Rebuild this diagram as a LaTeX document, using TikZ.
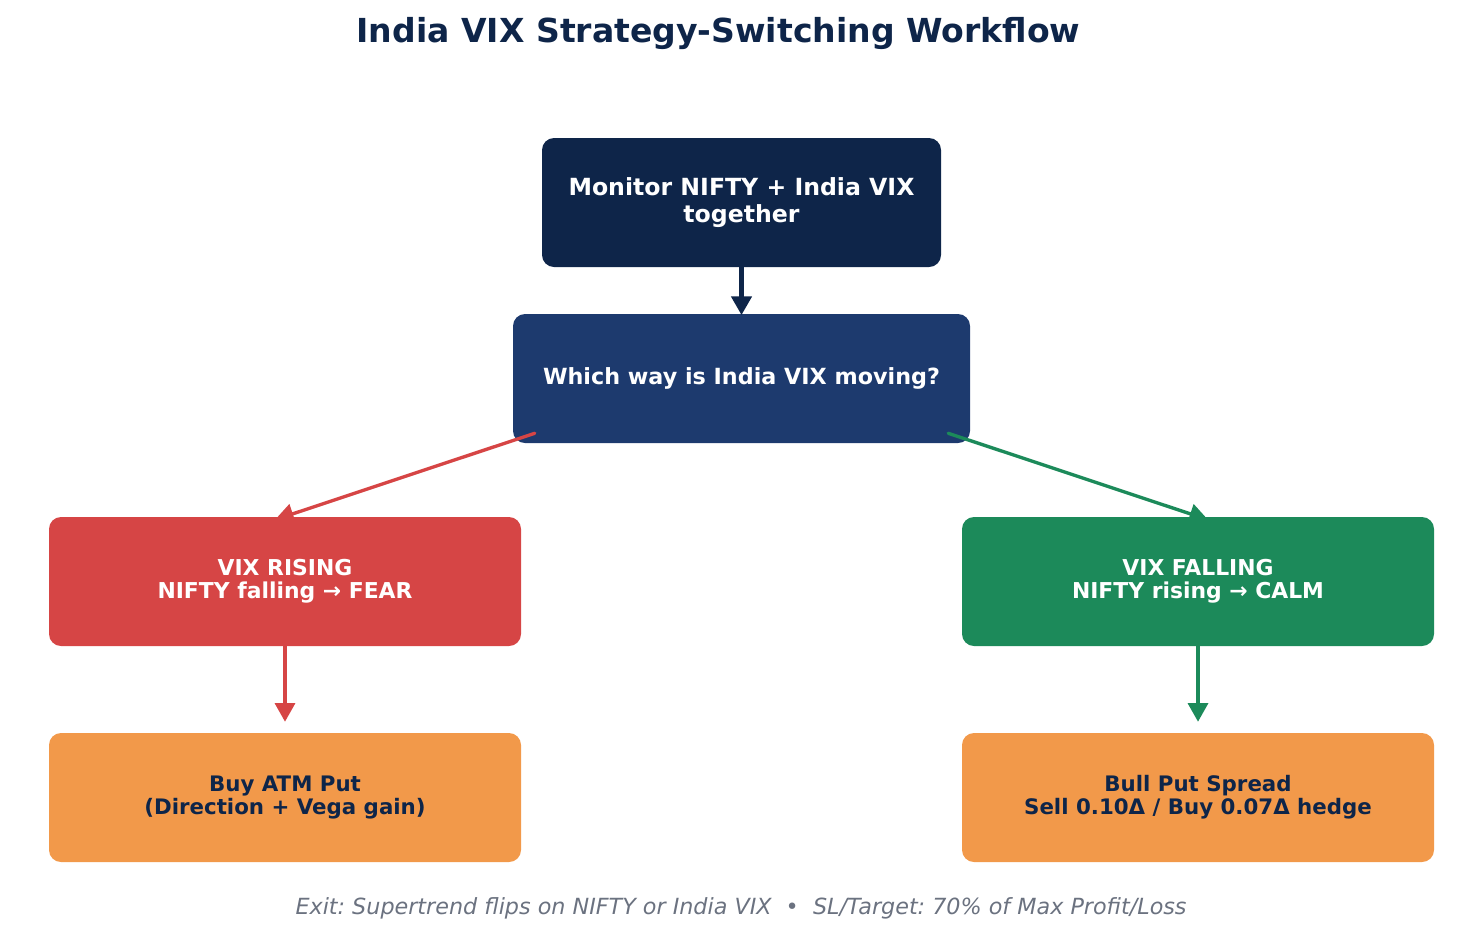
\documentclass[tikz,border=0pt]{standalone}
\usepackage{fontspec}
\setmainfont{DejaVu Sans}
\usetikzlibrary{arrows.meta,calc}
\definecolor{navy}{HTML}{0E2549}
\definecolor{blueq}{HTML}{1D3A6E}
\definecolor{redc}{HTML}{D64545}
\definecolor{greenc}{HTML}{1C8A5A}
\definecolor{orangec}{HTML}{F2994A}
\definecolor{grayc}{HTML}{6B7280}
\frenchspacing
\begin{document}
\begin{tikzpicture}[x=0.75pt,y=-0.75pt,
  box/.style={rectangle, rounded corners=9pt, inner sep=0pt, align=center, minimum height=96.75pt},
  textsm/.style={font=\bfseries\fontsize{16}{17.5}\selectfont},
  textmd/.style={font=\bfseries\fontsize{16.4}{17.5}\selectfont},
  conn/.style={line width=2.5pt, -{Triangle[length=14pt,width=15pt]}}]
\useasboundingbox (0,0) rectangle (1483,950);
\node[anchor=base, text=navy, font=\bfseries\fontsize{24.8}{29}\selectfont] (title) at (718.5,42) {India VIX Strategy-Switching Workflow};
\node[box, fill=navy, text=white, minimum width=299.25pt, font=\bfseries\fontsize{17.7}{20}\selectfont] (top) at (741.5,202.5) {Monitor NIFTY + India VIX\\together};
\node[box, fill=blueq, text=white, minimum width=342.75pt, font=\bfseries\fontsize{16.7}{20}\selectfont] (which) at (741.5,378.5) {Which way is India VIX moving?};
\node[box, fill=redc, text=white, minimum width=354pt, textmd] (rise) at (285,581.5) {VIX RISING\\NIFTY falling → FEAR};
\node[box, fill=greenc, text=white, minimum width=354pt, textmd] (fall) at (1198,581.5) {VIX FALLING\\NIFTY rising → CALM};
\node[box, fill=orangec, text=navy, minimum width=354pt, textsm] (put) at (285,797.5) {Buy ATM Put\\(Direction + Vega gain)};
\node[box, fill=orangec, text=navy, minimum width=354pt, textsm] (spread) at (1198,797.5) {Bull Put Spread\\Sell 0.10Δ / Buy 0.07Δ hedge};
\node[anchor=base, text=grayc, font=\itshape\fontsize{16.7}{20}\selectfont] (foot) at (741,914) {Exit: Supertrend flips on NIFTY or India VIX \ • \ SL/Target: 70\% of Max Profit/Loss};
\draw[conn, draw=navy, fill=navy, line width=3.2pt, shorten >=-1pt] (top) -- (which);
\draw[conn, draw=redc, line cap=round] ($(which.south west)+(22,-10)$) -- ($(rise.north)+(-10,3)$);
\draw[conn, draw=greenc, line cap=round] ($(which.south east)+(-22,-10)$) -- ($(fall.north)+(10,3)$);
\draw[conn, draw=redc, shorten >=8.25pt] (rise) -- (put);
\draw[conn, draw=greenc, shorten >=8.25pt] (fall) -- (spread);
\end{tikzpicture}
\end{document}
